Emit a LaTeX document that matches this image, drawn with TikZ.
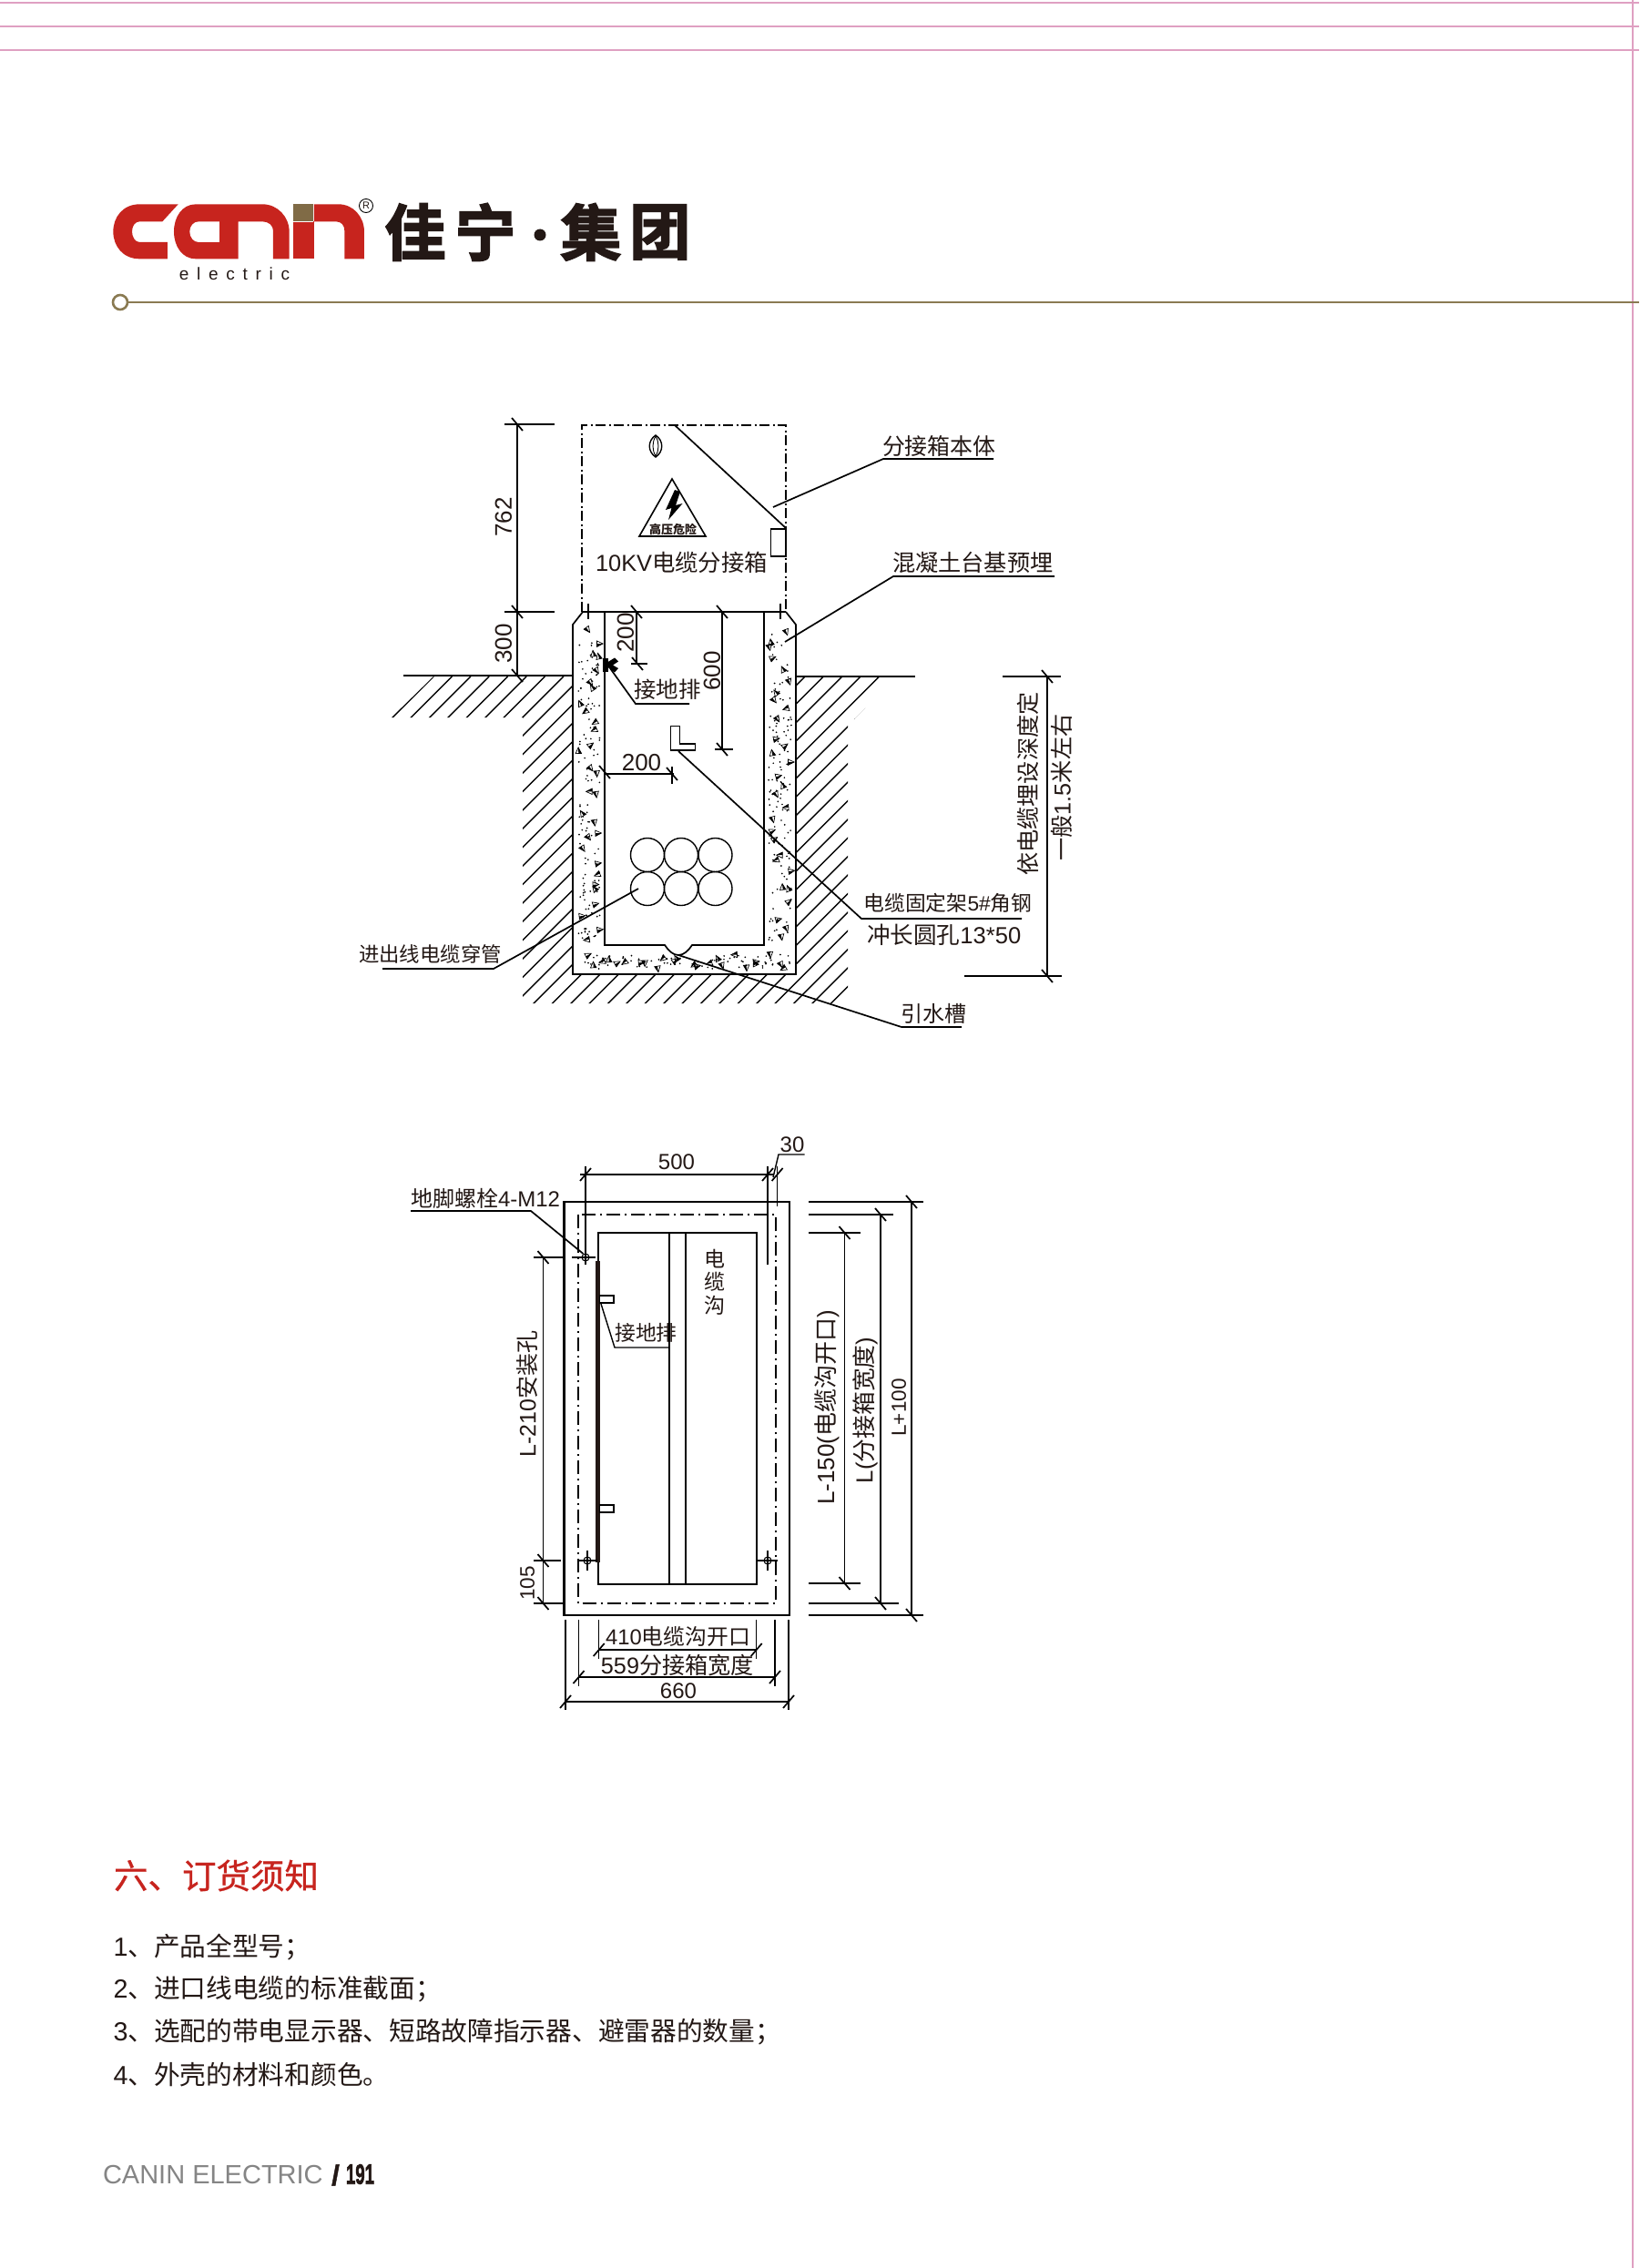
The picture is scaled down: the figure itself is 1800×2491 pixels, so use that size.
\documentclass[tikz,border=0pt]{standalone}
\usepackage{fontspec}
\usepackage{graphicx}
\setmainfont{Liberation Sans}
\newfontfamily\cjk{Noto Sans CJK SC}
\newfontfamily\cjkmid[FakeBold=0.7]{Noto Sans CJK SC}
\newfontfamily\cjkheavy[FakeBold=2.6]{Noto Sans CJK SC Bold}
\newcommand\zh[1]{{\cjk #1}}
\definecolor{logored}{HTML}{C7241E}
\definecolor{logobrown}{HTML}{806B46}
\definecolor{rulebrown}{HTML}{8A7A52}
\definecolor{guidepink}{HTML}{DFA0C2}
\definecolor{inkdark}{HTML}{231815}
\definecolor{footgrey}{HTML}{858585}
\tikzset{
  tx/.style={inner sep=0pt,outer sep=0pt,text=inkdark,font=\fontsize{#1}{#1}\selectfont},
  ln/.style={line width=1.7pt,black},
  thin ln/.style={line width=1.4pt,black},
  dashdot/.style={line width=1.6pt,black,dash pattern=on 11pt off 3.5pt on 2pt off 3.5pt},
  dashdotlong/.style={line width=1.7pt,black,dash pattern=on 15pt off 5pt on 2pt off 5pt},
  guide/.style={line width=1.6pt,guidepink}
}
\newcommand\tkd[2]{\draw[ln] ({#1-6},{#2-7}) -- ({#1+6},{#2+7});}
\newcommand\tku[2]{\draw[ln] ({#1-6},{#2+7}) -- ({#1+6},{#2-7});}
\newcommand\concrete[6]{%
  \foreach \i in {1,...,#5}{%
    \pgfmathsetmacro\tt{(\i-rnd)/#5}%
    \pgfmathsetmacro\ss{rnd}%
    \pgfmathsetmacro\px{(#2-#1>#4-#3) ? #1+\tt*(#2-#1) : #1+\ss*(#2-#1)}%
    \pgfmathsetmacro\py{(#2-#1>#4-#3) ? #3+\ss*(#4-#3) : #3+\tt*(#4-#3)}%
    \pgfmathsetmacro\rr{90*int(rnd*4)+rnd*40}%
    \begin{scope}[shift={(\px,\py)},rotate=\rr]
    \draw[black,line width=0.7pt] (-3.2,2.8) -- (3.2,2.8) -- (0,-3.8) -- cycle;
    \fill[black] (0,2.8) -- (3.2,2.8) -- (0,-3.8) -- cycle;
    \end{scope}
  }%
  \foreach \i in {1,...,#6}{%
    \pgfmathsetmacro\px{#1+rnd*(#2-#1)}%
    \pgfmathsetmacro\py{#3+rnd*(#4-#3)}%
    \fill[black] (\px,\py) circle (0.95);
  }%
}
\newcommand\bolt[2]{%
  \draw[line width=1.1pt,black] (#1,#2) circle (4);
  \draw[line width=1.1pt,black] ({#1},{#2-11}) -- ({#1},{#2+11});
  \draw[line width=1.1pt,black] ({#1-11},{#2}) -- ({#1+11},{#2});
}
\begin{document}
\begin{tikzpicture}[x=1pt,y=-1pt]
\useasboundingbox (0,0) rectangle (1800,2491);
\fill[white] (0,0) rectangle (1800,2491);
% crop guides
\draw[guide] (0,3) -- (1800,3);
\draw[guide] (0,29) -- (1800,29);
\draw[guide] (0,55) -- (1800,55);
\draw[guide] (1793,0) -- (1793,2491);
% logo
\begin{scope}[shift={(115,215)},x=0.3333pt,y=-0.3333pt]
\fill[logored] (242,28) -- (115,28) .. controls (60,28) and (28,70) .. (28,118) .. controls (28,166) and (60,208) .. (115,208)
  -- (207,208) -- (207,153) -- (115,153) .. controls (100,153) and (90,135) .. (90,118) .. controls (90,100) and (100,85) .. (115,85) -- (190,85) -- cycle;
\fill[logored] (300,28) -- (520,28) .. controls (570,28) and (608,70) .. (608,118) -- (608,208) -- (555,208) -- (555,115)
  .. controls (555,98) and (540,85) .. (520,85) -- (440,85) -- (440,208) -- (300,208) .. controls (255,208) and (228,166) .. (228,118) .. controls (228,70) and (255,28) .. (300,28) -- cycle;
\fill[white] (378,85) -- (310,85) .. controls (293,85) and (280,100) .. (280,118) .. controls (280,137) and (293,153) .. (310,153) -- (378,153) -- cycle;
\fill[logobrown] (622,28) rectangle (688,85);
\fill[logored] (622,88) rectangle (688,208);
\fill[logored] (690,28) -- (770,28) .. controls (820,28) and (855,70) .. (855,118) -- (855,208) -- (790,208) -- (790,115) .. controls (790,98) and (780,85) .. (762,85) -- (690,85) -- cycle;
\fill[logored] (688,85) rectangle (690,208);
\end{scope}
\draw[black,line width=0.9pt] (402,226) circle (7.5);
\node[tx=11] (regmark) at (402,226) {R};
\node[tx=19] (elec) at (257.5,301) {\addfontfeature{LetterSpace=46}electric};
\node[tx=66,font=\fontsize{67}{67}\cjkheavy] (l1) at (456,255) {佳};
\node[tx=66,font=\fontsize{67}{67}\cjkheavy] (l2) at (533,255) {宁};
\fill[inkdark] (593,258) circle (6.5);
\node[tx=66,font=\fontsize{67}{67}\cjkheavy] (l3) at (649,255) {集};
\node[tx=66,font=\fontsize{67}{67}\cjkheavy] (l4) at (725,255) {团};
\draw[rulebrown,line width=2.6pt] (132,332) circle (8);
\draw[rulebrown,line width=2.6pt] (140,332) -- (1800,332);

%%% ---- section drawing ----
% hatching
\begin{scope}
\clip (430,788) -- (476,743) -- (629,743) -- (629,1070) -- (874,1070) -- (874,743) -- (984,743) -- (938,790) -- (931,790) -- (931,1102) -- (574,1102) -- (574,788) -- cycle;
\foreach \k in {0,...,41}{
  \pgfmathsetmacro\xa{476+\k*20.4}
  \pgfmathsetmacro\xb{\xa-400}
  \draw[thin ln] (\xa,743) -- (\xb,1143);
}
\end{scope}
% ground
\draw[ln] (443,742) -- (629,742);
\draw[ln] (874,743) -- (1005,743);
% concrete
\draw[ln] (640,672) -- (629,686) -- (629,1070) -- (874,1070) -- (874,686) -- (863,672);
\draw[ln] (664,672) -- (664,1038) -- (730,1038) .. controls (734,1044) and (739,1049) .. (745,1049) .. controls (751,1049) and (756,1044) .. (760,1038) -- (839,1038) -- (839,672);
\pgfmathsetseed{12}
\concrete{635}{659}{684}{1034}{30}{120}
\concrete{844}{869}{684}{1034}{30}{120}
\concrete{637}{868}{1048}{1064}{24}{75}
% box
\draw[dashdot] (639,672) -- (639,467) -- (863,467) -- (863,672);
\draw[ln] (640,672) -- (863,672);
\draw[ln] (741,467) -- (863,580);
\draw[ln] (846.5,581) rectangle (863,611);
\draw[thin ln] (646,663) -- (646,680);
\draw[thin ln] (857,663) -- (857,680);
% lens
\draw[thin ln] (720,478) .. controls (711,484) and (711,496) .. (720,502) .. controls (729,496) and (729,484) .. (720,478) -- cycle;
\draw[line width=0.9pt,black] (720,479) .. controls (716,486) and (716,494) .. (720,501) .. controls (724,494) and (724,486) .. (720,479) -- cycle;
% warning
\draw[line width=1.6pt,black,line join=miter] (738,526) -- (702,589) -- (775,589) -- cycle;
\fill[black] (741,538) -- (731,560) -- (737.5,558) -- (734,571) -- (749.5,553) -- (742,555) -- (747,540) -- cycle;
\node[tx=13] (danger) at (739,581) {\zh{\bfseries 高压危险}};
\node[tx=25.4,anchor=west] (boxname) at (654,618) {10KV\zh{电缆分接箱}};
% left dimension
\draw[ln] (568,466) -- (568,742);
\draw[ln] (554,466) -- (609,466);
\draw[ln] (554,672) -- (609,672);
\tkd{568}{466}\tkd{568}{672}\tkd{568}{742}
\node[tx=26,rotate=90] (d762) at (553,568) {762};
\node[tx=26,rotate=90] (d300) at (553,707) {300};
% 200 / 600
\draw[ln] (699,672) -- (699,729);
\draw[ln] (693,729) -- (711,729);
\tkd{699}{672}\tkd{700}{729}
\node[tx=26,rotate=90] (d200a) at (687,695) {200};
\draw[ln] (793,672) -- (793,823);
\draw[ln] (785,823) -- (805,823);
\tkd{793}{672}\tkd{793}{823}
\node[tx=26,rotate=90] (d600) at (782,737) {600};
% earth bar mark
\fill[black] (661.7,723) rectangle (667.7,738);
\fill[black] (667.7,727) -- (675,722.5) -- (679,726.5) -- (673,730.5) -- (679,734) -- (675,738.5) -- (667.7,733) -- cycle;
\draw[ln] (670,734) -- (698,773) -- (757,773);
\node[tx=24.5] (earthA) at (733,757) {\zh{接地排}};
% angle bracket
\draw[ln] (736.5,797.5) -- (746.5,797.5) -- (746.5,817) -- (763.5,817) -- (763.5,824) -- (736.5,824) -- cycle;
\draw[ln] (745,825) -- (946,1009) -- (1122,1009);
\node[tx=22.8,anchor=west] (fix1) at (948.5,992) {\zh{电缆固定架}5\#\zh{角钢}};
\node[tx=25.6,anchor=west] (fix2) at (952,1027) {\zh{冲长圆孔}13*50};
% 200 horizontal
\draw[ln] (664,850) -- (740,850);
\draw[ln] (738,842) -- (738,861);
\tkd{664}{848}\tkd{738}{850}
\node[tx=26] (d200b) at (704.5,838) {200};
% pipes
\draw[thin ln] (711,939) circle (18.5);
\draw[thin ln] (748,939) circle (18.5);
\draw[thin ln] (785.5,939) circle (18.5);
\draw[thin ln] (711,976) circle (18.5);
\draw[thin ln] (748,976) circle (18.5);
\draw[thin ln] (785.5,976) circle (18.5);
\draw[ln] (701,976) -- (542,1064) -- (420,1064);
\node[tx=22.4,anchor=west] (pipes) at (394,1048) {\zh{进出线电缆穿管}};
% drain
\draw[ln] (745,1049) -- (990,1128) -- (1056,1128);
\node[tx=24,anchor=west] (drain) at (989,1113) {\zh{引水槽}};
% top leaders
\draw[ln] (849,557) -- (970,504) -- (1091,504);
\node[tx=24.9,anchor=west] (body) at (969,490) {\zh{分接箱本体}};
\draw[ln] (862,705) -- (981,633) -- (1158,633);
\node[tx=25.2,anchor=west] (base) at (980,618) {\zh{混凝土台基预埋}};
% depth dimension
\draw[ln] (1101,743) -- (1165,743);
\draw[ln] (1059,1072) -- (1166,1072);
\draw[ln] (1150,743) -- (1150,1072);
\tkd{1150}{743}\tkd{1150}{1072}
\node[tx=25.2,rotate=90] (depth1) at (1129,861) {\zh{依电缆埋设深度定}};
\node[tx=25.2,rotate=90] (depth2) at (1166,865) {\zh{一般}1.5\zh{米左右}};

%%% ---- plan drawing ----
\draw[line width=2.1pt,black] (619.5,1320) rectangle (867,1774);
\draw[dashdotlong] (634.7,1334) rectangle (852,1761);
\draw[line width=1.9pt,black] (657,1354) rectangle (831,1740);
\draw[line width=1.9pt,black] (735,1354) -- (735,1740);
\draw[line width=1.9pt,black] (753,1354) -- (753,1740);
\fill[inkdark] (654,1385) rectangle (658.5,1716);
\draw[thin ln] (658.5,1423) rectangle (674,1431);
\draw[thin ln] (658.5,1653) rectangle (674,1661);
\node[tx=23,align=center,font=\fontsize{23}{25.5}\selectfont\cjk] (trench) at (785,1408) {电\\缆\\沟};
\draw[thin ln] (660,1432) -- (675,1480) -- (735,1480);
\node[tx=22.8] (earthB) at (709.5,1464) {\zh{接地排}};
% bolts
\draw[line width=1.1pt,black] (643,1381) circle (4);
\draw[thin ln] (628,1381) -- (654,1381);
\bolt{645}{1714}
\bolt{843}{1714}
% top dimension
\draw[thin ln] (643,1281) -- (643,1389);
\draw[thin ln] (843,1281) -- (843,1389);
\draw[thin ln] (853.6,1281) -- (853.6,1325);
\draw[ln] (637,1290) -- (849,1290);
\tku{643}{1290}\tku{843}{1290}\tku{853.6}{1290}
\node[tx=24] (d500) at (743,1276) {500};
\draw[thin ln] (849,1293) -- (855,1268) -- (883.5,1268);
\node[tx=24] (d30) at (870,1257) {30};
% anchor bolts label
\node[tx=24,anchor=west] (bolts) at (451,1316) {\zh{地脚螺栓}4-M12};
\draw[ln] (451,1330) -- (583,1330) -- (640.5,1377);
% left dimension
\draw[ln] (586,1381) -- (617.5,1381);
\draw[ln] (586,1714) -- (615.5,1714);
\draw[ln] (586,1761) -- (617.5,1761);
\draw[ln] (596.5,1381) -- (596.5,1761);
\tkd{596.5}{1381}\tkd{596.5}{1714}\tkd{596.5}{1761}
\node[tx=25,rotate=90] (l210) at (579,1531) {L-210\zh{安装孔}};
\node[tx=22.5,rotate=90] (d105) at (579,1739) {105};
% right dimensions
\draw[ln] (888,1320) -- (1014,1320);
\draw[ln] (888,1334) -- (981,1334);
\draw[ln] (888,1354) -- (945,1354);
\draw[ln] (888,1739) -- (945,1739);
\draw[ln] (888,1761) -- (987,1761);
\draw[ln] (888,1774) -- (1014,1774);
\draw[ln] (927.5,1354) -- (927.5,1739);
\draw[ln] (967,1334) -- (967,1761);
\draw[ln] (1001,1320) -- (1001,1774);
\tkd{927.5}{1354}\tkd{927.5}{1739}\tkd{967}{1334}\tkd{967}{1761}\tkd{1001}{1320}\tkd{1001}{1774}
\node[tx=26,rotate=90] (l150) at (908,1546) {L-150(\zh{电缆沟开口})};
\node[tx=25.8,rotate=90] (lw) at (950,1549) {L(\zh{分接箱宽度})};
\node[tx=22.5,rotate=90] (l100) at (987,1546) {L+100};
% bottom dimensions
\draw[thin ln] (621,1779) -- (621,1878);
\draw[thin ln] (866,1779) -- (866,1878);
\draw[thin ln] (635.5,1779) -- (635.5,1852);
\draw[thin ln] (851,1779) -- (851,1852);
\draw[thin ln] (657.7,1779) -- (657.7,1822);
\draw[thin ln] (830.7,1779) -- (830.7,1822);
\draw[ln] (657.7,1812) -- (830.7,1812);
\draw[ln] (635.5,1842) -- (851,1842);
\draw[ln] (621,1869) -- (866,1869);
\tku{657.7}{1812}\tku{830.7}{1812}\tku{635.5}{1842}\tku{851}{1842}\tku{621}{1869}\tku{866}{1869}
\node[tx=23.8] (w410) at (744.5,1797) {410\zh{电缆沟开口}};
\node[tx=25.2] (w559) at (744,1829) {559\zh{分接箱宽度}};
\node[tx=24] (w660) at (745,1857) {660};

%%% ---- notes ----
\node[tx=37.5,anchor=west,text=logored] (title) at (125,2060) {{\cjkmid 六、订货须知}};
\node[tx=28.7,anchor=west] (n1) at (124.5,2138.5) {1\zh{、产品全型号；}};
\node[tx=28.7,anchor=west] (n2) at (124.5,2184.5) {2\zh{、进口线电缆的标准截面；}};
\node[tx=28.7,anchor=west] (n3) at (124.5,2231.5) {3\zh{、选配的带电显示器、短路故障指示器、避雷器的数量；}};
\node[tx=28.7,anchor=west] (n4) at (124.5,2278.5) {4\zh{、外壳的材料和颜色。}};
\node[tx=29,anchor=west,text=footgrey] (foot) at (113,2388) {CANIN ELECTRIC};
\node[tx=31,anchor=center] (slash) at (368.5,2389) {\bfseries\addfontfeature{FakeBold=1.5}/};
\node[tx=31,anchor=west] (page) at (380,2388) {\scalebox{0.6}[1]{\bfseries\addfontfeature{FakeBold=2.5}191}};
\end{tikzpicture}
\end{document}
